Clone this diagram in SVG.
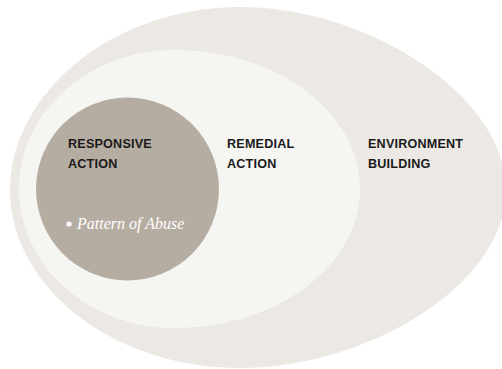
<svg xmlns="http://www.w3.org/2000/svg" width="502" height="369" viewBox="0 0 502 369">
<style>
.lbl{font-family:"Liberation Sans",Arial,sans-serif;font-weight:bold;font-size:12.6px;letter-spacing:0.2px;fill:#1a1a1a}
.it{font-family:"Liberation Serif","Times New Roman",serif;font-style:italic;font-size:16px;fill:#ffffff}
</style>
<rect width="502" height="369" fill="#ffffff"/>
<g id="environment-building">
<path d="M240,7 C367,7 506,95 506,190 C506,285 367,368 240,368 C113,368 10,287 10,190 C10,93 113,7 240,7 Z" fill="#ece9e5"/>
<text class="lbl" x="368" y="148">ENVIRONMENT</text>
<text class="lbl" x="368" y="168">BUILDING</text>
</g>
<g id="remedial-action">
<path d="M174,50 C277,50 360,112 360,189 C360,266 277,328 174,328 C89,328 19,266 19,189 C19,112 89,50 174,50 Z" fill="#f5f5f2"/>
<text class="lbl" x="227" y="148">REMEDIAL</text>
<text class="lbl" x="227" y="168">ACTION</text>
</g>
<g id="responsive-action">
<circle cx="127.5" cy="189" r="91.5" fill="#b6ada2"/>
<text class="lbl" x="68" y="148">RESPONSIVE</text>
<text class="lbl" x="68" y="168">ACTION</text>
<circle cx="69" cy="224" r="2.6" fill="#ffffff"/>
<text class="it" x="77" y="229">Pattern of Abuse</text>
</g>
<g id="connectors"/>
</svg>
